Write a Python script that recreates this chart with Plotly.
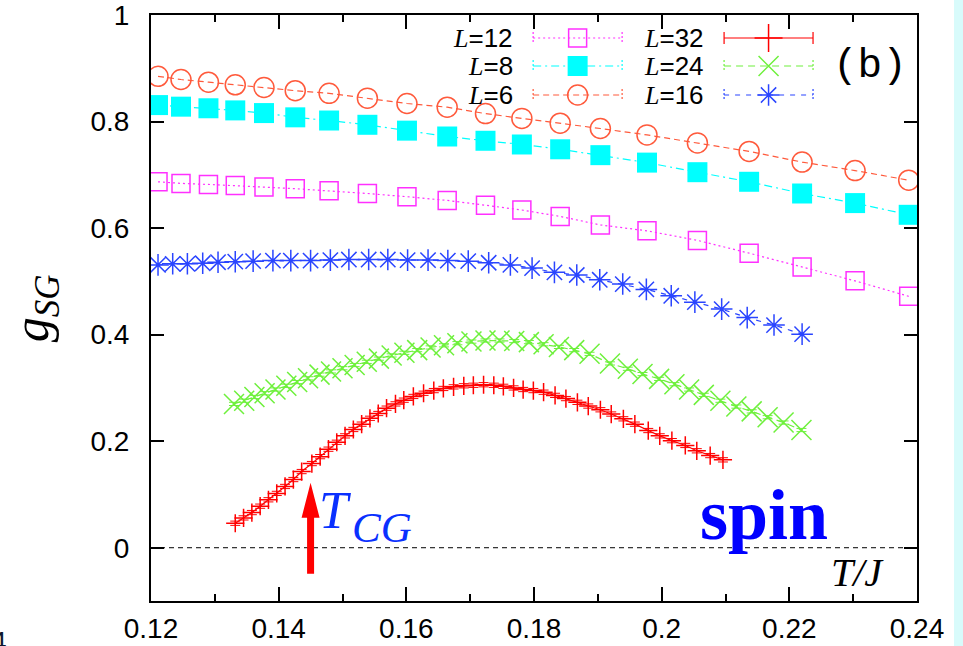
import plotly.graph_objects as go

# ---- data: spin-glass Binder ratio g_SG versus temperature T/J ----
T_small = [0.1211, 0.1247, 0.1290, 0.1332, 0.1377, 0.1426, 0.1479, 0.1539, 0.1601, 0.1664,
           0.1724, 0.1781, 0.1841, 0.1904, 0.1977, 0.2056, 0.2137, 0.2220, 0.2303, 0.2387]
g_L6 = [0.885, 0.879, 0.874, 0.869, 0.864, 0.858, 0.853, 0.844, 0.834, 0.827,
        0.815, 0.806, 0.797, 0.787, 0.775, 0.760, 0.744, 0.724, 0.708, 0.690]
g_L8 = [0.831, 0.828, 0.825, 0.821, 0.816, 0.808, 0.802, 0.794, 0.783, 0.772,
        0.764, 0.757, 0.748, 0.737, 0.723, 0.705, 0.687, 0.665, 0.647, 0.625]
g_L12 = [0.687, 0.684, 0.682, 0.680, 0.677, 0.674, 0.670, 0.665, 0.659, 0.652,
         0.643, 0.634, 0.622, 0.606, 0.595, 0.577, 0.553, 0.527, 0.501, 0.472]

T_L16 = [0.1211, 0.1234, 0.1257, 0.1281, 0.1305, 0.1332, 0.1360, 0.1391, 0.1419, 0.1450,
         0.1481, 0.1510, 0.1541, 0.1571, 0.1602, 0.1634, 0.1665, 0.1697, 0.1729, 0.1763,
         0.1797, 0.1832, 0.1867, 0.1903, 0.1939, 0.1976, 0.2015, 0.2052, 0.2094, 0.2134,
         0.2176, 0.2220]
g_L16 = [0.531, 0.533, 0.533, 0.534, 0.536, 0.537, 0.538, 0.539, 0.539, 0.539,
         0.540, 0.541, 0.541, 0.541, 0.540, 0.540, 0.539, 0.538, 0.535, 0.531,
         0.525, 0.517, 0.512, 0.503, 0.495, 0.485, 0.473, 0.461, 0.448, 0.432,
         0.418, 0.401]

T_L24 = [0.1330, 0.1346, 0.1362, 0.1378, 0.1395, 0.1412, 0.1429, 0.1446, 0.1464, 0.1482,
         0.1500, 0.1519, 0.1538, 0.1557, 0.1577, 0.1597, 0.1617, 0.1638, 0.1659, 0.1680,
         0.1702, 0.1724, 0.1746, 0.1769, 0.1792, 0.1815, 0.1839, 0.1863, 0.1887, 0.1919,
         0.1947, 0.1970, 0.1996, 0.2020, 0.2043, 0.2066, 0.2092, 0.2117, 0.2141, 0.2166,
         0.2191, 0.2219]
g_L24 = [0.270, 0.276, 0.283, 0.290, 0.297, 0.304, 0.311, 0.318, 0.325, 0.331,
         0.337, 0.343, 0.349, 0.355, 0.361, 0.366, 0.371, 0.376, 0.380, 0.384,
         0.387, 0.389, 0.389, 0.388, 0.386, 0.382, 0.377, 0.371, 0.364, 0.346,
         0.336, 0.326, 0.317, 0.307, 0.297, 0.287, 0.276, 0.265, 0.256, 0.245,
         0.235, 0.221]

T_L32 = [0.1332, 0.1345, 0.1358, 0.1371, 0.1384, 0.1397, 0.1410, 0.1423, 0.1436, 0.1452,
         0.1465, 0.1478, 0.1491, 0.1504, 0.1517, 0.1530, 0.1543, 0.1556, 0.1569, 0.1583,
         0.1596, 0.1611, 0.1627, 0.1643, 0.1658, 0.1674, 0.1690, 0.1705, 0.1721, 0.1737,
         0.1752, 0.1768, 0.1783, 0.1799, 0.1815, 0.1833, 0.1850, 0.1868, 0.1885, 0.1904,
         0.1921, 0.1940, 0.1958, 0.1979, 0.1997, 0.2016, 0.2037, 0.2055, 0.2076, 0.2096]
g_L32 = [0.046, 0.056, 0.066, 0.078, 0.090, 0.102, 0.115, 0.128, 0.143, 0.158,
         0.171, 0.185, 0.198, 0.210, 0.222, 0.232, 0.243, 0.252, 0.262, 0.270,
         0.277, 0.284, 0.290, 0.295, 0.299, 0.302, 0.304, 0.305, 0.306, 0.305,
         0.303, 0.300, 0.297, 0.295, 0.292, 0.286, 0.280, 0.273, 0.266, 0.259,
         0.251, 0.242, 0.232, 0.220, 0.210, 0.201, 0.192, 0.182, 0.173, 0.165]
err_L32 = 0.004
err_L24 = 0.003

x_ticks = [0.12, 0.14, 0.16, 0.18, 0.20, 0.22, 0.24]
x_ticktext = ["0.12", "0.14", "0.16", "0.18", "0.2", "0.22", "0.24"]
y_ticks = [0, 0.2, 0.4, 0.6, 0.8, 1.0]
y_ticktext = ["0", "0.2", "0.4", "0.6", "0.8", "1"]

T_CG = 0.145

# ---- styles ----
C12, C8, C6 = "#ff30ff", "#00ffff", "#ff5a3c"
C32, C24, C16 = "#ff0000", "#6ef03c", "#2a45ff"
SANS = "Liberation Sans"
SERIF = "Liberation Serif"

series = [
    # label, T, g, color, dash, symbol, size, error
    ("12", T_small, g_L12, C12, "2px,3px", "square-open", 18, None),
    ("8", T_small, g_L8, C8, "8px,4px,2px,4px", "square", 20, None),
    ("6", T_small, g_L6, C6, "6px,4px", "circle-open", 20, None),
    ("16", T_L16, g_L16, C16, "5px,6px", "asterisk-open", 18, None),
    ("24", T_L24, g_L24, C24, "7px,5px", "x-thin-open", 20, err_L24),
    ("32", T_L32, g_L32, C32, "solid", "cross-thin-open", 13, err_L32),
]

fig = go.Figure()

for lab, xs, ys, col, dash, sym, size, err in series:
    kw = {}
    if err is not None:
        kw["error_y"] = dict(type="constant", value=err, color=col, thickness=1, width=5)
    fig.add_trace(go.Scatter(
        x=xs, y=ys, mode="lines+markers", showlegend=False,
        line=dict(color=col, width=1.2, dash=dash),
        marker=dict(symbol=sym, size=size, color=col,
                    line=dict(color=col, width=1.5 if "open" in sym else 0)),
        **kw))

# ---- hand-made key (pixel-space overlay axes) ----
L_PX, R_PX, T_PX, B_PX = 150.7, 917.0, 15.0, 601.0
key_rows = [38, 66, 95]
key_cols = [(515, 533, 622), (706, 724, 813)]
key_entries = [
    (0, 0, "12", C12, "2px,3px", "square-open", 18),
    (0, 1, "8", C8, "8px,4px,2px,4px", "square", 20),
    (0, 2, "6", C6, "6px,4px", "circle-open", 20),
    (1, 0, "32", C32, "solid", "cross-thin-open", 20),
    (1, 1, "24", C24, "7px,5px", "x-thin-open", 20),
    (1, 2, "16", C16, "5px,6px", "asterisk-open", 18),
]
annotations = []
for ci, ri, lab, col, dash, sym, size in key_entries:
    tx, x0, x1 = key_cols[ci]
    yy = key_rows[ri]
    fig.add_trace(go.Scatter(x=[x0, x1], y=[yy, yy], mode="lines", xaxis="x2", yaxis="y2",
                             showlegend=False, hoverinfo="skip",
                             line=dict(color=col, width=1.2, dash=dash)))
    fig.add_trace(go.Scatter(x=[x0, x0, None, x1, x1], y=[yy - 6, yy + 6, None, yy - 6, yy + 6],
                             mode="lines", xaxis="x2", yaxis="y2", showlegend=False,
                             hoverinfo="skip", line=dict(color=col, width=1.2,
                                                         dash="solid" if dash == "solid" else "2px,2px")))
    fig.add_trace(go.Scatter(x=[(x0 + x1) / 2], y=[yy], mode="markers", xaxis="x2", yaxis="y2",
                             showlegend=False, hoverinfo="skip",
                             marker=dict(symbol=sym, size=size, color=col,
                                         line=dict(color=col, width=1.5 if "open" in sym else 0))))
    annotations.append(dict(
        xref="x2", yref="y2", x=tx, y=yy, xanchor="right", yanchor="middle", showarrow=False,
        text=f"<span style='font-family:{SERIF}'><i>L</i></span>={lab}",
        font=dict(family=SANS, size=26, color="black")))

annotations += [
    dict(xref="x2", yref="y2", x=870, y=66, text="(b)", showarrow=False,
         xanchor="center", yanchor="middle",
         font=dict(family="Liberation Mono", size=41, color="black")),
    dict(xref="x", yref="y", x=0.1460, y=0.070, text="<i>T</i>", showarrow=False,
         xanchor="left", yanchor="middle", font=dict(family=SERIF, size=52, color="#0a30ff")),
    dict(xref="x", yref="y", x=0.1512, y=0.038, text="<i>CG</i>", showarrow=False,
         xanchor="left", yanchor="middle", font=dict(family=SERIF, size=43, color="#0a30ff")),
    dict(xref="x", yref="y", x=0.2160, y=0.062, text="<b>spin</b>", showarrow=False,
         xanchor="center", yanchor="middle", font=dict(family=SERIF, size=72, color="#0000ff")),
    dict(xref="x", yref="y", x=0.2352, y=-0.047, text="<i>T/J</i>", showarrow=False,
         xanchor="right", yanchor="middle", font=dict(family=SERIF, size=40, color="black")),
    dict(xref="paper", yref="paper", x=(35 - L_PX) / (R_PX - L_PX), y=(B_PX - 308) / (B_PX - T_PX),
         xanchor="center", yanchor="middle",
         text="<i>g</i><sub><i>SG</i></sub>", showarrow=False, textangle=-90,
         font=dict(family=SERIF, size=50, color="black")),
    dict(xref="paper", yref="paper", x=(9 - L_PX) / (R_PX - L_PX), y=(B_PX - 624) / (B_PX - T_PX),
         text="4", showarrow=False, xanchor="right", yanchor="top",
         font=dict(family=SANS, size=28, color="#101830")),
]

shapes = [
    # zero reference line
    dict(type="line", xref="paper", yref="y", x0=0, x1=1, y0=0, y1=0,
         line=dict(color="black", width=1, dash="5px,4px")),
    # arrow marking T_CG
    dict(type="path", xref="x", yref="y", xsizemode="pixel", ysizemode="pixel",
         xanchor=T_CG, yanchor=0.122,
         path="M0,0 L9,-35 L3.5,-35 L3.5,-91 L-3.5,-91 L-3.5,-35 L-9,-35 Z",
         fillcolor="#ff0000", line=dict(width=0)),
    # light strip at the right edge of the page
    dict(type="rect", xref="paper", yref="paper",
         x0=(954 - L_PX) / (R_PX - L_PX), x1=(970 - L_PX) / (R_PX - L_PX),
         y0=-0.1, y1=1.1, fillcolor="#d8fbfb", line=dict(width=0), layer="below"),
]

fig.update_layout(
    width=963, height=646,
    margin=dict(l=L_PX, r=963 - R_PX, t=T_PX, b=646 - B_PX, autoexpand=False),
    paper_bgcolor="white", plot_bgcolor="white",
    font=dict(family=SANS, size=28, color="black"),
    xaxis=dict(range=[0.12, 0.24], tickvals=x_ticks, ticktext=x_ticktext, automargin=False,
               ticks="inside", ticklen=14, tickwidth=2, tickcolor="black",
               showline=True, linewidth=2, linecolor="black", mirror="allticks",
               showgrid=False, zeroline=False, ticklabelstandoff=1, ticklabeloverflow="allow",
               minor=dict(dtick=0.01, tick0=0.12, ticks="inside", ticklen=7, tickwidth=2,
                          tickcolor="black", showgrid=False)),
    yaxis=dict(range=[-0.1, 1.0001], tickvals=y_ticks, ticktext=y_ticktext, automargin=False,
               ticks="inside", ticklen=13, tickwidth=2, tickcolor="black",
               showline=True, linewidth=2, linecolor="black", mirror="allticks",
               showgrid=False, zeroline=False, ticklabelstandoff=14, ticklabeloverflow="allow"),
    xaxis2=dict(range=[L_PX, R_PX], overlaying="x", anchor="y2", visible=False),
    yaxis2=dict(range=[B_PX, T_PX], overlaying="y", anchor="x2", visible=False),
    annotations=annotations,
    shapes=shapes,
)

fig.write_html("out.html")
